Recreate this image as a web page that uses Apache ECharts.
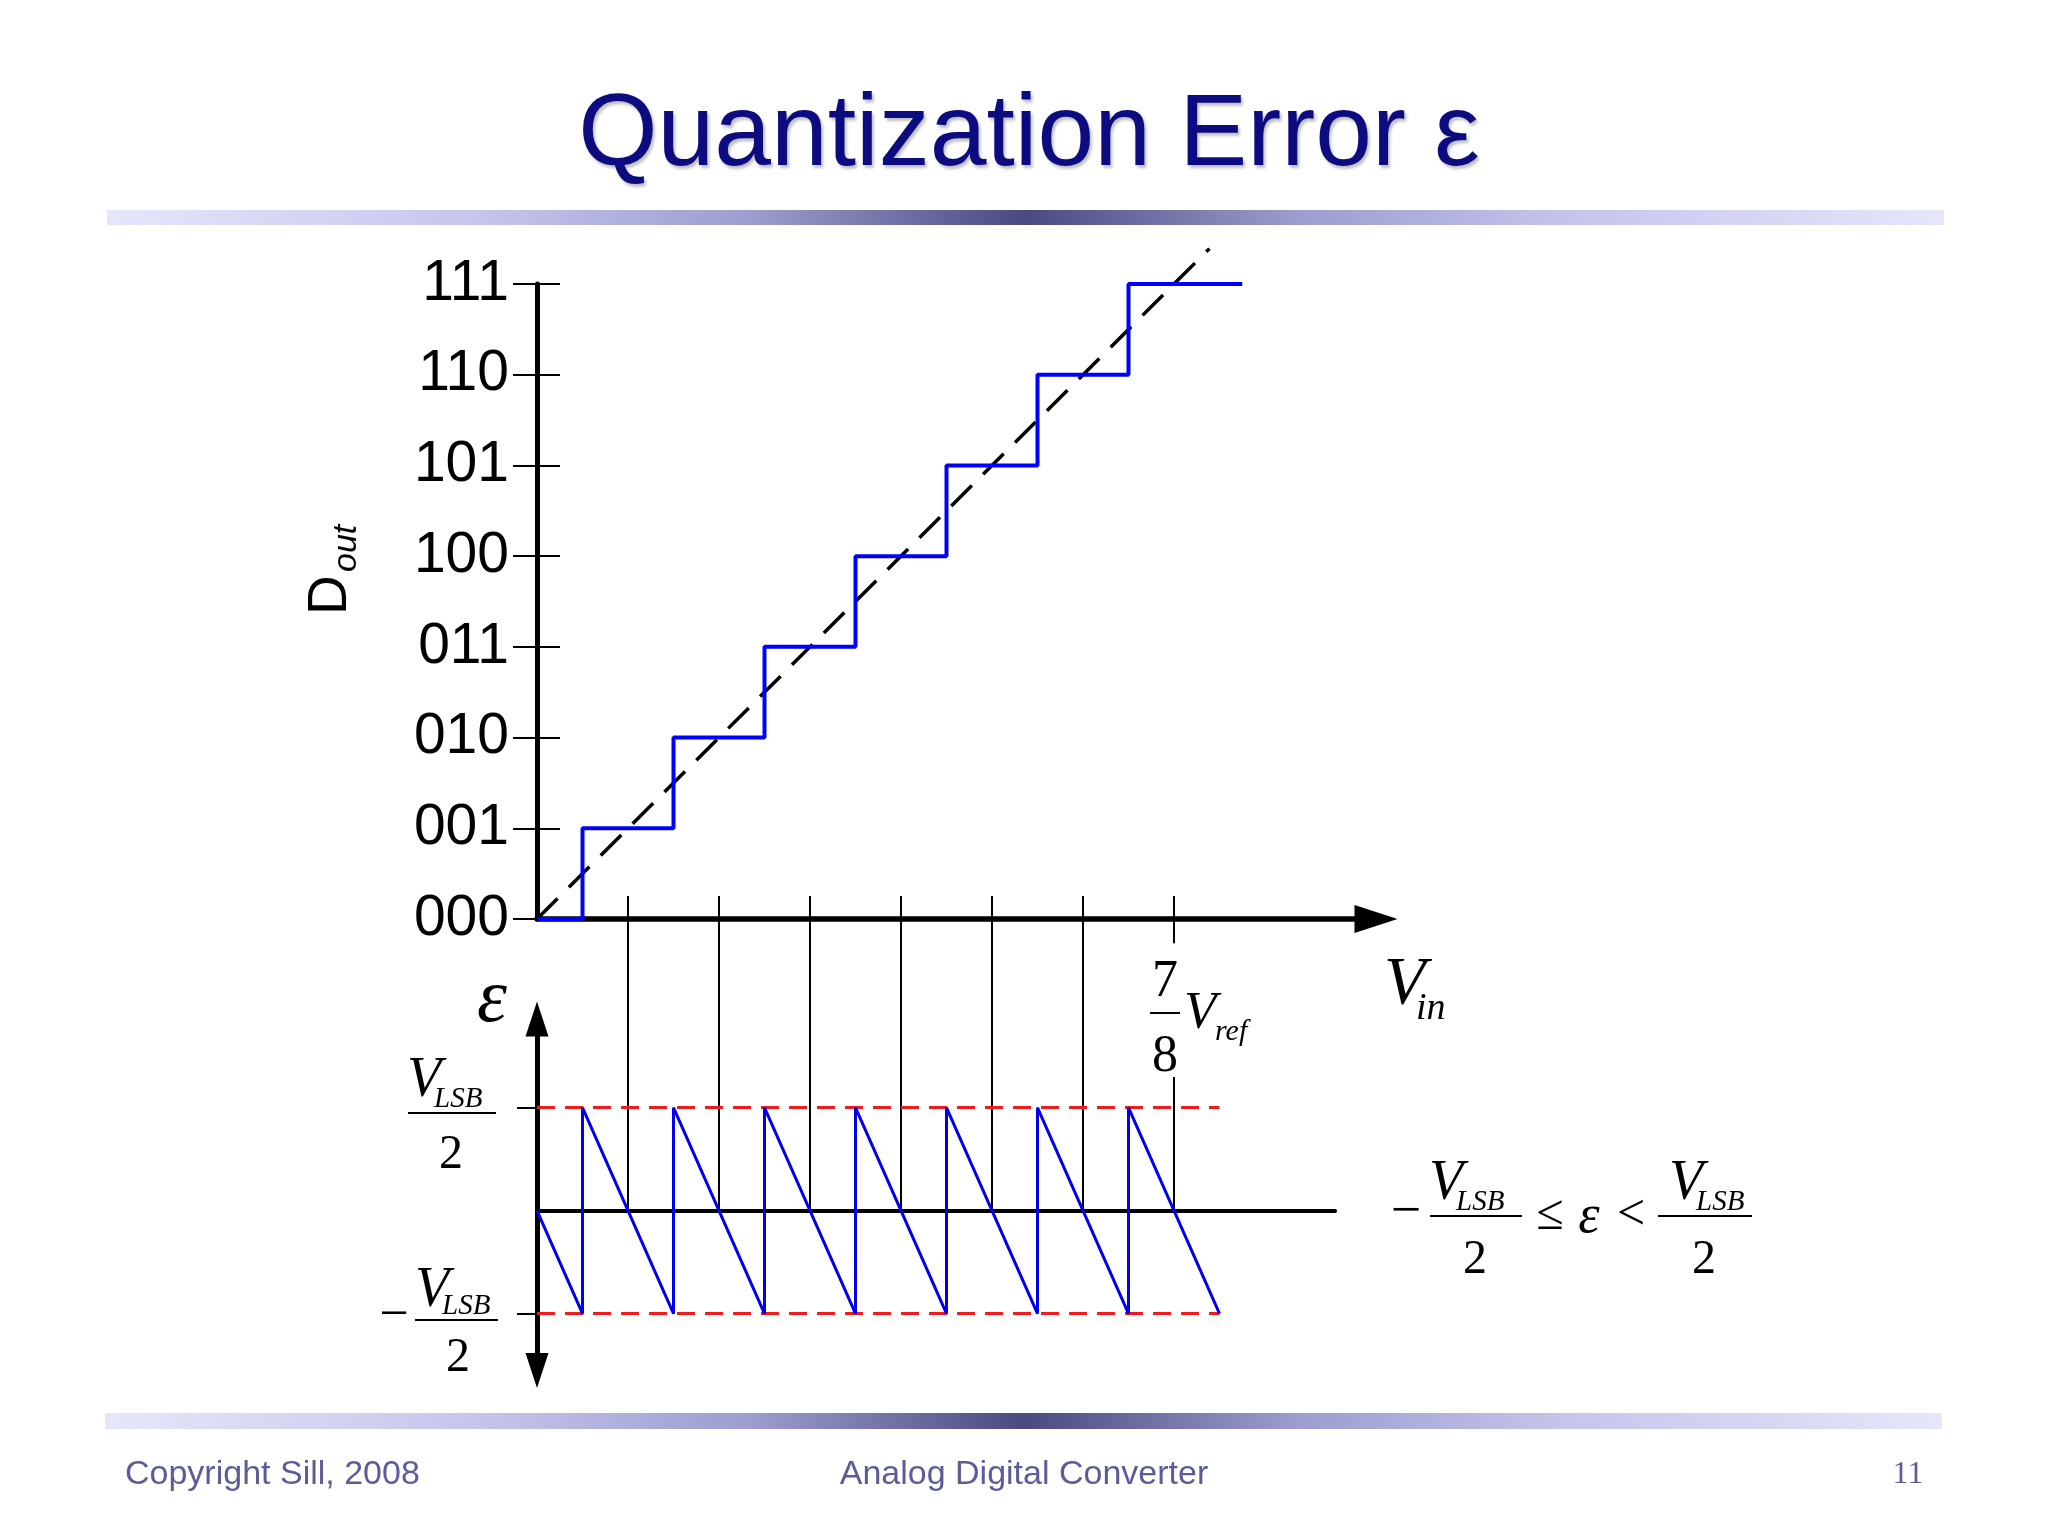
<!DOCTYPE html>
<html>
<head>
<meta charset="utf-8">
<title>Quantization Error</title>
<script src="https://cdn.jsdelivr.net/npm/echarts@6.0.0/dist/echarts.min.js"></script>
<style>
  html, body { margin: 0; padding: 0; background: #fff; }
  #chart { width: 2048px; height: 1536px; }
</style>
</head>
<body>
<div id="chart"></div>
<script>
// ---- data (units: LSB on x, output code / error in LSB on y) ----
const codeLabels = ['000', '001', '010', '011', '100', '101', '110', '111'];

// transfer curve: code steps up half an LSB before each ideal point
const vinStep = [0, 0.5, 1.5, 2.5, 3.5, 4.5, 5.5, 6.5, 7.75];
const doutStep = [0, 1, 2, 3, 4, 5, 6, 7, 7];

// ideal (infinite resolution) line
const idealVin = [0, 7.39];
const idealDout = [0, 7.39];

// quantization error sawtooth
const errVin = [0, 0.5, 0.5, 1.5, 1.5, 2.5, 2.5, 3.5, 3.5, 4.5, 4.5, 5.5, 5.5, 6.5, 6.5, 7.5];
const errValue = [0, -0.5, 0.5, -0.5, 0.5, -0.5, 0.5, -0.5, 0.5, -0.5, 0.5, -0.5, 0.5, -0.5, 0.5, -0.5];

// +/- VLSB/2 bounds
const boundVin = [0, 7.5];
const boundLevels = [0.5, -0.5];

// error axis zero line length
const zeroLineEnd = 8.77;

// vertical guides linking both plots, the 7/8 Vref one is broken for its label
const guideVin = [1, 2, 3, 4, 5, 6, 7];
const labelGap = [0.425, 0.85];

// ---- layout ----
const LSB = 91;      // px per LSB
const X0 = 537;      // x of both vertical axes
const SERIF = '"Liberation Serif", "Times New Roman", serif';
const SANS = '"Liberation Sans", Arial, sans-serif';
const FOOT = '#5c5c98';
const MID = 0.26;    // canvas 'middle' above the baseline, in em

const zip = (xs, ys) => xs.map((x, i) => [x, ys[i]]);

const guideSegments = [];
guideVin.forEach(v => {
  if (v === 7) {
    guideSegments.push({ coords: [[v, 0], [v, labelGap[0]]] });
    guideSegments.push({ coords: [[v, labelGap[1]], [v, 1]] });
  } else {
    guideSegments.push({ coords: [[v, 0], [v, 1]] });
  }
});
const boundSegments = boundLevels.map(l => ({ coords: [[boundVin[0], l], [boundVin[1], l]] }));

// text placed by its baseline
function label(text, x, baseline, size, opts = {}) {
  const align = opts.align || 'left';
  return {
    type: 'text',
    x: x,
    y: baseline - MID * size,
    style: {
      text: text,
      fill: opts.color || '#000',
      font: (opts.style || 'normal') + ' ' + size + 'px ' + (opts.family || SERIF),
      textAlign: align, align: align,
      textVerticalAlign: 'middle', verticalAlign: 'middle'
    }
  };
}
function bar(x1, x2, y, w) {
  return { type: 'line', shape: { x1: x1, y1: y, x2: x2, y2: y }, style: { stroke: '#000', lineWidth: w || 2 } };
}
// V_LSB over 2
function vlsbFrac(vx, vBase, barX1, barX2, barY, twoX, twoBase) {
  return [
    label('V', vx, vBase, 56, { style: 'italic' }),
    label('LSB', vx + 27, barY - 6, 29, { style: 'italic' }),
    bar(barX1, barX2, barY),
    label('2', twoX, twoBase, 48, { align: 'center' })
  ];
}

const gradient = new echarts.graphic.LinearGradient(0, 0, 1, 0, [
  { offset: 0, color: '#e6e6fb' },
  { offset: 0.2, color: '#c6c6ec' },
  { offset: 0.35, color: '#9d9dcf' },
  { offset: 0.5, color: '#4a4a7f' },
  { offset: 0.65, color: '#9d9dcf' },
  { offset: 0.8, color: '#c6c6ec' },
  { offset: 1, color: '#e6e6fb' }
]);

const graphics = [
  { type: 'rect', shape: { x: 107, y: 210, width: 1837, height: 15 }, style: { fill: gradient } },
  { type: 'rect', shape: { x: 105, y: 1413, width: 1837, height: 16 }, style: { fill: gradient } },
  {
    type: 'text', x: 1029, y: 163 - MID * 102,
    style: {
      text: 'Quantization Error ε', fill: '#0c0c80', font: '102px ' + SANS,
      textAlign: 'center', align: 'center', textVerticalAlign: 'middle', verticalAlign: 'middle',
      textShadowColor: 'rgba(0,0,0,0.25)', textShadowBlur: 3, textShadowOffsetX: 2, textShadowOffsetY: 3
    }
  },
  // D_out, rotated
  {
    type: 'group', x: 345, y: 615, rotation: Math.PI / 2,
    children: [
      label('D', 0, 0, 55, { family: SANS }),
      label('out', 43, 10, 34, { family: SANS, style: 'italic' })
    ]
  },
  // V_in
  label('V', 1384, 1003, 68, { style: 'italic' }),
  label('in', 1416, 1019, 38, { style: 'italic' }),
  // 7/8 V_ref
  label('7', 1165, 996, 52, { align: 'center' }),
  bar(1150, 1180, 1013),
  label('8', 1165, 1071, 52, { align: 'center' }),
  label('V', 1184, 1028, 53, { style: 'italic' }),
  label('ref', 1215, 1040, 30, { style: 'italic' }),
  // epsilon axis name
  label('ε', 492, 1021, 76, { style: 'italic', align: 'center' }),
  // +VLSB/2 and -VLSB/2 tick labels
  ...vlsbFrac(407, 1096, 408, 496, 1113, 451, 1168),
  label('−', 394, 1330, 52, { align: 'center' }),
  ...vlsbFrac(415, 1306, 415, 498, 1320, 458, 1371),
  // error range formula
  label('−', 1406, 1227, 54, { align: 'center' }),
  ...vlsbFrac(1429, 1199, 1430, 1522, 1216, 1475, 1273),
  label('≤', 1550, 1229, 50, { align: 'center' }),
  label('ε', 1589, 1232, 54, { style: 'italic', align: 'center' }),
  label('<', 1631, 1229, 50, { align: 'center' }),
  ...vlsbFrac(1669, 1199, 1658, 1752, 1216, 1704, 1273),
  // footer
  label('Copyright Sill, 2008', 125, 1483, 34, { family: SANS, color: FOOT }),
  label('Analog Digital Converter', 1024, 1483, 34, { family: SANS, color: FOOT, align: 'center' }),
  label('11', 1908, 1483, 32, { color: FOOT, align: 'center' })
];

const chart = echarts.init(document.getElementById('chart'));

const option = {
  animation: false,
  backgroundColor: '#fff',
  grid: [
    { left: X0, top: 284, width: 9.22 * LSB, height: 635 },
    { left: X0, top: 1019, width: zeroLineEnd * LSB, height: 351.5 },
    { left: X0, top: 896, width: 9.22 * LSB, height: 314.7 }
  ],
  xAxis: [
    {
      gridIndex: 0, type: 'value', min: 0, max: 9.22,
      axisLine: { show: true, symbol: ['none', 'triangle'], symbolSize: [28, 43], lineStyle: { color: '#000', width: 5.5 } },
      axisTick: { show: false }, axisLabel: { show: false }, splitLine: { show: false }
    },
    {
      gridIndex: 1, type: 'value', min: 0, max: zeroLineEnd,
      axisLine: { show: true, onZero: true, lineStyle: { color: '#000', width: 4 } },
      axisTick: { show: false }, axisLabel: { show: false }, splitLine: { show: false }
    },
    { gridIndex: 2, type: 'value', min: 0, max: 9.22, show: false }
  ],
  yAxis: [
    {
      gridIndex: 0, type: 'value', min: 0, max: 7, interval: 1, position: 'left',
      axisLine: { show: true, lineStyle: { color: '#000', width: 5 } },
      axisTick: { show: true, length: 24, lineStyle: { color: '#000', width: 2 } },
      axisLabel: {
        formatter: v => codeLabels[v], fontFamily: 'Liberation Sans', fontSize: 57,
        color: '#000', margin: 28, padding: [0, 0, 5, 0]
      },
      splitLine: { show: false }
    },
    {
      // inner half of the code ticks
      gridIndex: 0, type: 'value', min: 0, max: 7, interval: 1, position: 'left',
      axisLine: { show: false },
      axisTick: { show: true, inside: true, length: 23, lineStyle: { color: '#000', width: 2 } },
      axisLabel: { show: false }, splitLine: { show: false }
    },
    {
      gridIndex: 1, type: 'value', min: -0.7757, max: 0.9306,
      axisLine: { show: true, symbol: ['triangle', 'triangle'], symbolSize: [23, 35], lineStyle: { color: '#000', width: 5 } },
      axisTick: { show: true, customValues: boundLevels, length: 20, lineStyle: { color: '#000', width: 2 } },
      axisLabel: { show: false }, splitLine: { show: false }
    },
    { gridIndex: 2, type: 'value', min: 0, max: 1, show: false }
  ],
  series: [
    {
      name: 'guides', type: 'lines', coordinateSystem: 'cartesian2d', xAxisIndex: 2, yAxisIndex: 3,
      data: guideSegments, silent: true, z: 1,
      lineStyle: { color: '#000', width: 2, opacity: 1, curveness: 0 }
    },
    {
      name: 'ideal', type: 'line', xAxisIndex: 0, yAxisIndex: 0,
      data: zip(idealVin, idealDout), symbol: 'none', clip: false, z: 2,
      lineStyle: { color: '#000', width: 3.5, type: [29, 16] }
    },
    {
      name: 'Dout', type: 'line', step: 'end', xAxisIndex: 0, yAxisIndex: 0,
      data: zip(vinStep, doutStep), symbol: 'none', clip: false, z: 3,
      lineStyle: { color: '#0000ff', width: 4 }
    },
    {
      name: 'bounds', type: 'lines', coordinateSystem: 'cartesian2d', xAxisIndex: 1, yAxisIndex: 2,
      data: boundSegments, silent: true, z: 2,
      lineStyle: { color: '#ee1c1c', width: 3, type: [18, 10], opacity: 1, curveness: 0 }
    },
    {
      name: 'error', type: 'line', xAxisIndex: 1, yAxisIndex: 2,
      data: zip(errVin, errValue), symbol: 'none', clip: false, z: 3,
      lineStyle: { color: '#0000ee', width: 3 }
    }
  ],
  graphic: graphics
};

chart.setOption(option);
</script>
</body>
</html>
